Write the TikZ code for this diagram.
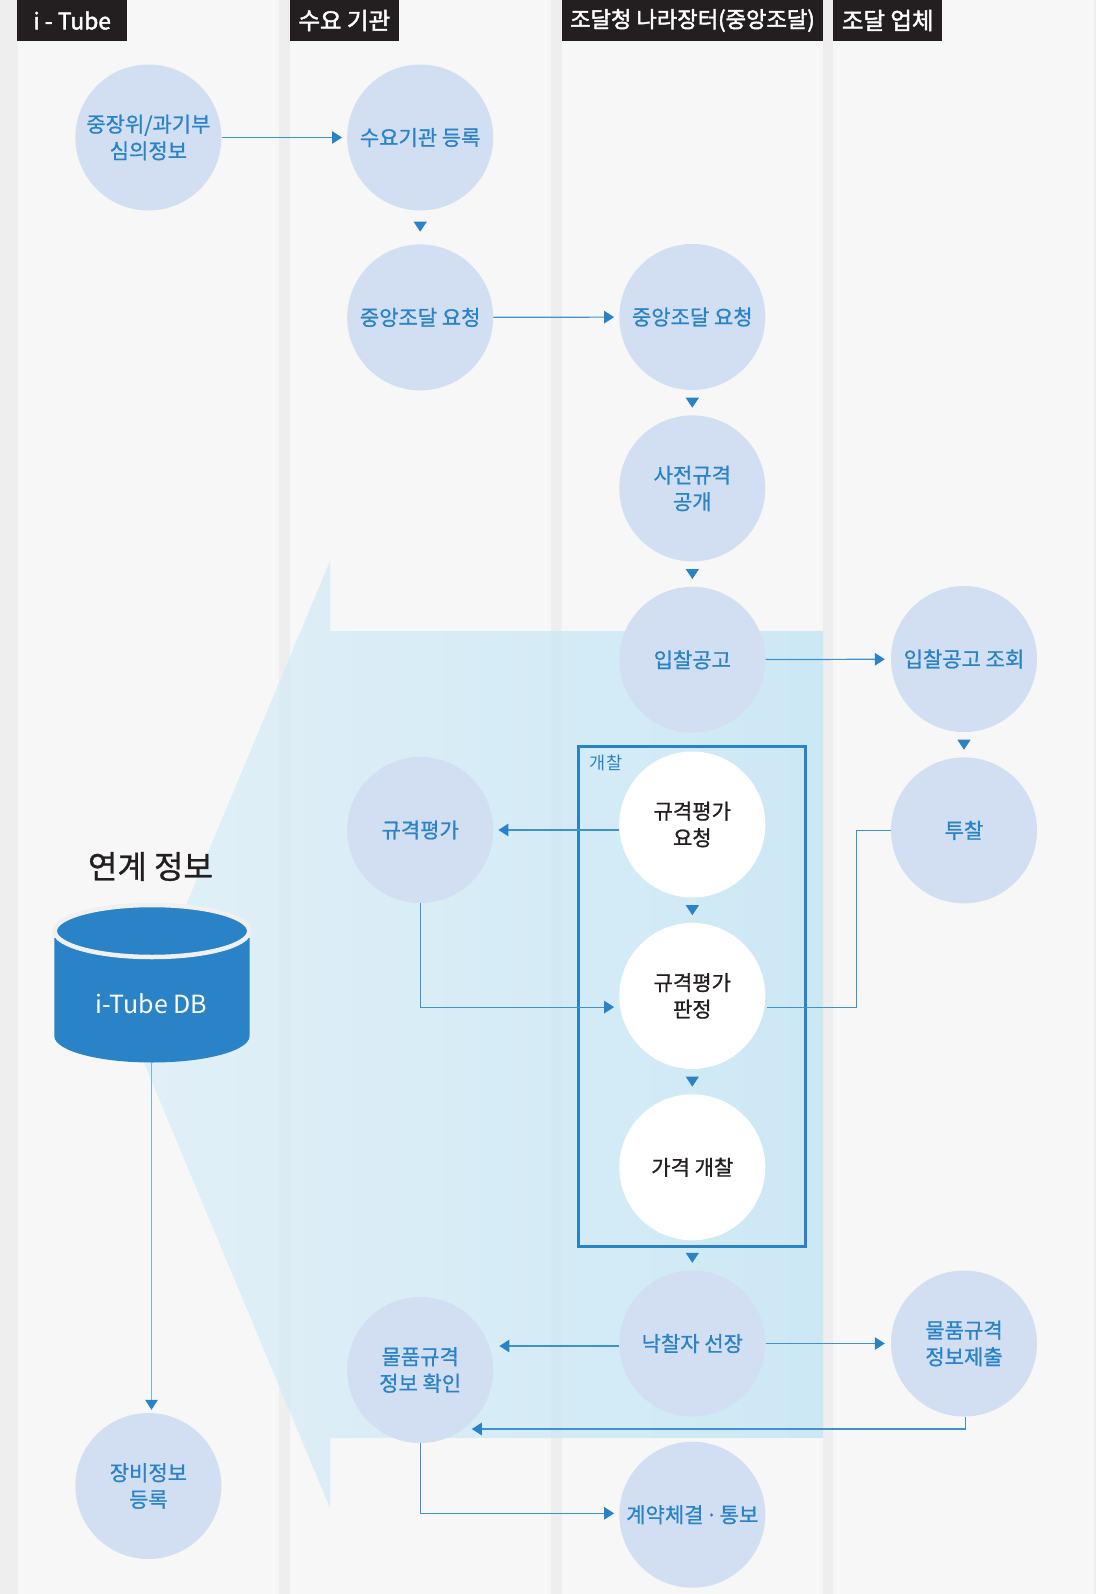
\documentclass[tikz,border=0pt]{standalone}
\usepackage{fontspec}
\setmainfont{Noto Sans CJK KR}
\newfontfamily\krmedium[FakeBold=0.9]{Noto Sans CJK KR}
\newfontfamily\krhead[FakeBold=2]{Noto Sans CJK KR}
\usetikzlibrary{arrows.meta, positioning}
\definecolor{flowblue}{HTML}{2A82C7}
\definecolor{linkblue}{HTML}{3F92D2}
\definecolor{headblack}{HTML}{231F20}
\definecolor{procfill}{HTML}{D2DFF2}
\tikzset{%
	proc/.style={circle, minimum size=146pt, inner sep=0pt, fill=#1, align=center,%
		font=\krmedium\fontsize{21}{26.6}\selectfont, node distance=25pt},
	proc/.default={procfill},
	blueproc/.style={proc, text=flowblue},
	bidproc/.style={proc=white, text=headblack},
	lanehead/.style={fill=headblack, text=white, minimum height=41pt, inner sep=0pt,%
		font=\krhead\fontsize{23.5}{26}\selectfont},
	conn/.style={draw=linkblue, line width=1.2pt},
	flow/.style={conn, -{Triangle[length=10pt,width=12.5pt,color=flowblue]}, shorten >=5pt},
	gaptip/.style={conn, -{Triangle[length=10pt,width=13pt,color=flowblue]},%
		shorten <=7.5pt, shorten >=7.5pt}
}
\begin{document}
\begin{tikzpicture}[x=1pt, y=-1pt]
	\useasboundingbox (0,0) rectangle (1096,1594);
	\fill[gray!13] (0,0) rectangle (1096,1594);
	\foreach \laneleft/\laneright in {17.5/278.6, 289.6/551, 562/823, 833/1094}
		\fill[black!3] (\laneleft,0) rectangle (\laneright,1594);

	\shade[left color={rgb,255:red,217;green,237;blue,247}, right color={rgb,255:red,187;green,227;blue,245}, opacity=.7]
		(132,1034) -- (330,561) -- (330,631) -- (823,631) -- (823,1438) -- (330,1438) -- (330,1508) -- cycle;

	\node[lanehead, minimum width=109.5pt, font=\krhead\fontsize{22.8}{26}\selectfont] (hd1) at (72.2,20.5) {i - Tube};
	\node[lanehead, minimum width=109.5pt] (hd2) at (344.3,20.5) {수요 기관};
	\node[lanehead, minimum width=261pt, font=\krhead\fontsize{22.2}{26}\selectfont] (hd3) at (692.5,20.5) {조달청 나라장터(중앙조달)};
	\node[lanehead, minimum width=109.5pt] (hd4) at (887.7,20.5) {조달 업체};

	% database
	\fill[flowblue] (54.3,938) -- (54.3,1036) arc[start angle=180, end angle=360, x radius=97.65pt, y radius=26.5pt] -- (249.6,938) -- cycle;
	\draw[black!6, line width=4.5pt, fill=flowblue] (152,931) ellipse [x radius=97.25pt, y radius=26pt];
	\node[minimum width=195pt, minimum height=116pt, inner sep=0pt, text=white, font=\fontsize{25}{28}\selectfont] (db) at (151.5,1003.5) {i-Tube DB};
	\node[text=headblack, font=\krmedium\fontsize{32}{34}\selectfont, inner sep=0pt] (dbtitle) at (150.5,866.5) {연계 정보};

	\draw[flowblue, line width=3pt] (578,746) rectangle (805,1246.7);
	\node[text=flowblue, font=\fontsize{17.5}{20}\selectfont, inner sep=0pt] (bidlabel) at (606,763) {개찰};

	\node[blueproc] (board) at (148.4,137.5) {중장위/과기부\\심의정보};
	\node[blueproc] (equip) at (148.4,1486) {장비정보\\등록};

	\node[blueproc] (agency) at (420.2,137.5) {수요기관 등록};
	\node[blueproc, below=33.5pt of agency] (askcol2) {중앙조달 요청};
	\node[blueproc] (specev) at (420.2,830) {규격평가};
	\node[blueproc] (specchk) at (420.2,1370) {물품규격\\정보 확인};

	\node[blueproc] (askcol3) at (692.3,317) {중앙조달 요청};
	\node[blueproc, below=of askcol3] (prespec) {사전규격\\공개};
	\node[blueproc, below=of prespec] (notice) {입찰공고};
	\node[bidproc] (reqeval) at (692.3,824.5) {규격평가\\요청};
	\node[bidproc, below=of reqeval] (judge) {규격평가\\판정};
	\node[bidproc, below=of judge] (price) {가격 개찰};
	\node[blueproc] (winner) at (692.3,1343.5) {낙찰자 선장};
	\node[blueproc] (contract) at (692.3,1514.7) {계약체결\kern-2.5pt{} · \kern-2.5pt{}통보};

	\node[blueproc] (lookup) at (964,659) {입찰공고 조회};
	\node[blueproc, below=of lookup] (bid) {투찰};
	\node[blueproc] (submit) at (964,1343.5) {물품규격\\정보제출};

	\draw[gaptip, shorten <=11pt, shorten >=12.5pt] (agency) to (askcol2);
	\draw[gaptip] (askcol3) to (prespec);
	\draw[gaptip] (prespec) to (notice);
	\draw[gaptip] (reqeval) to (judge);
	\draw[gaptip] (judge) to (price);
	\draw[gaptip] (lookup) to (bid);
	\draw[gaptip, shorten <=13pt] (price) to (winner);

	\draw[flow] (board) to (agency);
	\draw[flow] (askcol2) to (askcol3);
	\draw[flow, shorten >=6pt] (notice) to (lookup);
	\draw[flow] (reqeval.west |- specev) to (specev);
	\draw[flow] (specev.south) |- ([yshift=-11.2pt]judge.west);
	\draw[conn, shorten >=1pt] (bid.west) -- ++(-34.7,0) |- ([yshift=-11.2pt]judge.east);
	\draw[flow, shorten >=6pt] ([yshift=-2.5pt]winner.west) to ([yshift=24pt]specchk.east);
	\draw[flow, shorten >=6pt] (winner) to (submit);
	\draw[flow] ([xshift=1.5pt]submit.south) |- ([xshift=46.6pt,yshift=-59pt]specchk.center);
	\draw[flow] (specchk.south) |- ([yshift=1.4pt]contract.west);
	\draw[flow, shorten >=3pt, draw=linkblue!70] (db.south) to (db.south |- equip.north);
\end{tikzpicture}
\end{document}
